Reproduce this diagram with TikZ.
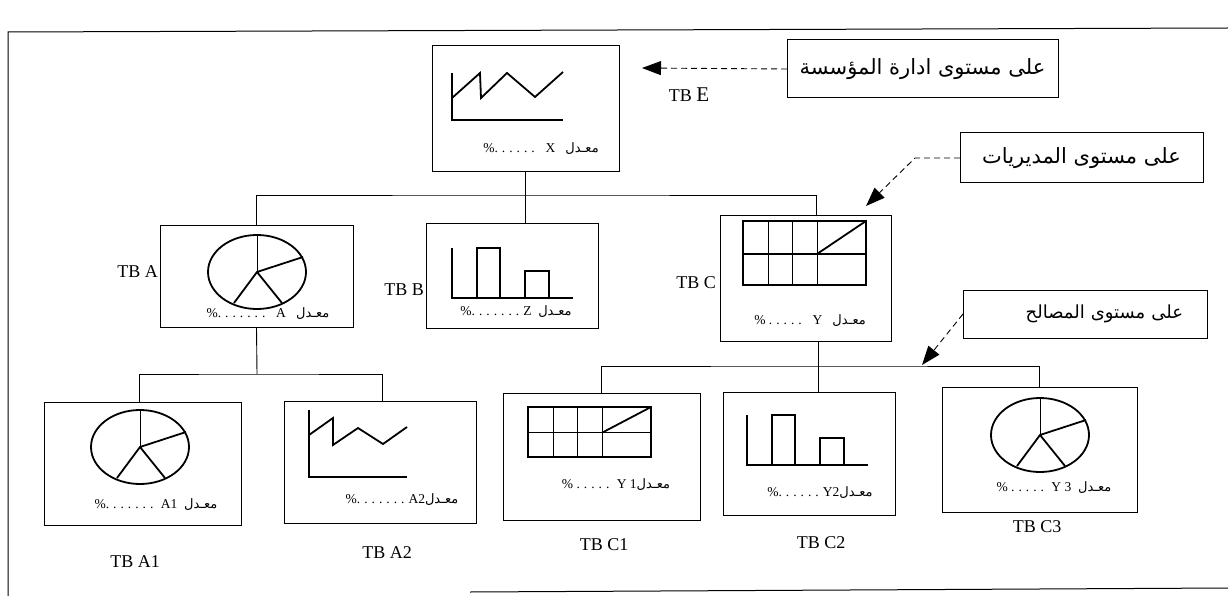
\documentclass[tikz,border=0pt]{standalone}
\usepackage{fontspec}
\setmainfont{Liberation Serif}
\newfontfamily\arabicfont[Script=Arabic]{DejaVu Sans}
\TeXXeTstate=1
\usetikzlibrary{arrows.meta,calc}
\newcommand\ratetext[1]{#1{\arabicfont\fontsize{13}{15}\selectfont\beginR معـدل\endR}}
\newcommand\dotrun[1]{\foreach\i in {1,...,#1}{.\kern4pt}}
\tikzset{
  panel/.style={rectangle,draw,line width=1pt,inner sep=0pt,outer sep=0pt},
  levelbox/.style={panel,font=\arabicfont\fontsize{21}{24}\selectfont},
  tblabel/.style={font=\fontsize{18}{20}\selectfont,inner sep=1pt},
  rate/.style={font=\fontsize{13.5}{15}\selectfont,inner sep=1pt},
  tree/.style={draw,line width=.9pt},
  pointer/.style={draw,line width=.9pt,dash pattern=on 6pt off 4pt,
    -{Triangle[length=19pt,width=14pt]}},
  chartline/.style={line width=1.8pt,line join=miter},
  thinline/.style={line width=.8pt},
  piechart/.pic={
    \draw[chartline] (0,0) ellipse [x radius=49,y radius=37];
    \draw[thinline] (0,0) -- (0,-37);
    \draw[chartline] (46,-15) -- (0,0) -- (-23,31) (0,0) -- (25,31);
  },
  barchart/.pic={
    \draw[thinline,line width=1.1pt] (25,0) rectangle (48,-50) (73,0) rectangle (97,-27);
    \draw[chartline] (0,-50) -- (0,0) -- (121,0);
  },
  gridchart/.pic={
    \draw[thinline] (25,0) -- (25,64) (49,0) -- (49,64) (74,0) -- (74,64);
    \draw[chartline,line width=1.2pt] (0,0) rectangle (123,64) (0,33) -- (123,33);
    \draw[chartline] (74,33) -- (123,0);
  },
}
\begin{document}
\begin{tikzpicture}[x=1pt,y=-1pt]
\useasboundingbox (0,0) rectangle (1228,596);
% frame
\draw[line width=1pt] (1228,28) -- (8,32) -- (8,596);
\draw[line width=1pt] (470,592) -- (1228,588);

% level of the firm
\node[panel,minimum width=187,minimum height=126] (E) at (525.5,109) {};
\draw[chartline] (452,73) -- (452,120) -- (563,120);
\draw[chartline] (452,98) -- (480,73) -- (481,98) -- (507,73) -- (535,97) -- (563,72);
\node[rate] (Erate) at (541,149) {\ratetext{\%\dotrun{6}\ \ X\ \ \ }};
\node[tblabel] (tbE) at (689,95) {TB {\fontsize{21}{23}\selectfont E}};

% directorates
\node[panel,minimum width=193,minimum height=102] (A) at (256.5,276) {};
\pic at (257,272) {piechart};
\node[rate] (Arate) at (268,314) {\ratetext{\%\dotrun{7}\ \ A\ \ \ }};
\node[tblabel,anchor=east] (tbA) at (159,272) {TB A};

\node[panel,minimum width=172,minimum height=105] (B) at (512,275.5) {};
\pic at (452,298) {barchart};
\node[rate] (Brate) at (516,312) {\ratetext{\%\dotrun{7}Z\ \ }};
\node[tblabel,anchor=east] (tbB) at (425,290) {TB B};

\node[panel,minimum width=171,minimum height=126] (C) at (805.5,278) {};
\pic at (743,221) {gridchart};
\node[rate] (Crate) at (810,321) {\ratetext{\%\ \dotrun{5}\ \ Y\ \ \ }};
\node[tblabel,anchor=east] (tbC) at (717,283) {TB C};

% departments
\node[panel,minimum width=197,minimum height=123] (A1) at (142.5,463.5) {};
\pic at (140,447) {piechart};
\node[rate] (A1rate) at (156,505) {\ratetext{\%\dotrun{7}\ A1\ \ }};
\node[tblabel] (tbA1) at (135,562) {TB A1};

\node[panel,minimum width=192,minimum height=122] (A2) at (380,462) {};
\draw[chartline] (309,410) -- (309,477) -- (407,477);
\draw[chartline] (309,435) -- (333,418) -- (333,445) -- (358,428) -- (383,444) -- (407,427);
\node[rate] (A2rate) at (402,500) {\ratetext{\%\dotrun{7}A2}};
\node[tblabel] (tbA2) at (387,553) {TB A2};

\node[panel,minimum width=197,minimum height=127] (C1) at (601.5,456.5) {};
\pic[yscale=.78] at (528,407) {gridchart};
\node[rate] (C1rate) at (616,485) {\ratetext{\%\ \dotrun{5}\ Y\ 1}};
\node[tblabel] (tbC1) at (604,545) {TB C1};

\node[panel,minimum width=172,minimum height=123] (C2) at (809,453.5) {};
\pic at (747,465) {barchart};
\node[rate] (C2rate) at (820,493) {\ratetext{\%\dotrun{6}Y2}};
\node[tblabel] (tbC2) at (821,543) {TB C2};

\node[panel,minimum width=195,minimum height=125] (C3) at (1039.5,449.5) {};
\pic at (1040,435) {piechart};
\node[rate] (C3rate) at (1054,488) {\ratetext{\%\ \dotrun{5}\ Y\ 3\ \ }};
\node[tblabel] (tbC3) at (1037,527) {TB C3};

% tree
\coordinate (busE) at (525.5,195);
\coordinate (busA) at (257,374);
\coordinate (busC) at (818,366);
\draw[tree] (E.south) -- (E.south |- B.north);
\draw[tree] (A.north) |- (busE) -| ($(C.north)+(11,0)$);
\draw[tree] (A.south) -- (busA);
\draw[tree] ([xshift=-3pt]A1.north) |- (busA) -| ([xshift=2pt]A2.north);
\draw[tree] ($(C.south)+(12.5,0)$) -- ($(C2.north)+(9,0)$);
\draw[tree] (C1.north) |- (busC) -| (C3.north);

% level labels
\node[levelbox,minimum width=271,minimum height=58] (L1) at (922.5,69) {\beginR على مستوى ادارة المؤسسة\endR};
\node[levelbox,minimum width=243,minimum height=50] (L2) at (1081.5,158) {\beginR على مستوى المديريات\endR};
\node[levelbox,minimum width=244,minimum height=48,text width=196,align=right,
  font=\arabicfont\fontsize{18}{21}\selectfont] (L3) at (1085,314) {\beginR على مستوى المصالح\endR};
\coordinate (tipE) at (642,68);
\coordinate (tipC) at (866,206);
\coordinate (tipS) at (922,365);
\draw[pointer] (L1.west) -- (tipE);
\draw[pointer] (L2.west) -- ++(-45,0) -- (tipC);
\draw[pointer] (L3.west) -- (tipS);
\end{tikzpicture}
\end{document}
